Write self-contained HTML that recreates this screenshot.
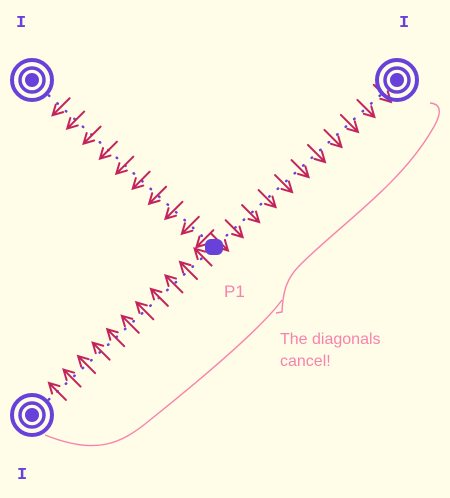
<!DOCTYPE html>
<html><head><meta charset="utf-8">
<style>
html,body{margin:0;padding:0;background:#fffce8;}
svg{display:block;}
.lbl{font-family:"Comic Sans MS","Liberation Sans",sans-serif;}
.ii{font-family:"Liberation Mono",monospace;font-weight:bold;}
</style></head>
<body>
<svg id="s" width="450" height="498" viewBox="0 0 450 498" xmlns="http://www.w3.org/2000/svg">
<rect width="450" height="498" fill="#fffce8"/>
<g id="lines"></g>
<g id="arrows"></g>
<g id="sources"></g>
<rect x="205" y="239" width="18" height="16" rx="6" fill="#6741d9"/>
<text x="224" y="297" class="lbl" font-size="17" fill="#f783ac">P1</text>
<path d="M430,103 C442,104 442,114 432,130 C400,185 340,225 300,265 C287,278 283,290 282,312 L276,313 M282,300 C260,330 200,380 150,420 C120,445 95,455 45,435" fill="none" stroke="#f783ac" stroke-width="1.4"/>
<text x="280" y="344" class="lbl" font-size="16" fill="#f783ac">The diagonals</text>
<text x="280" y="366" class="lbl" font-size="16" fill="#f783ac">cancel!</text>
<text x="16" y="27" class="ii" font-size="17" fill="#6741d9">I</text>
<text x="399" y="27" class="ii" font-size="17" fill="#6741d9">I</text>
<text x="17" y="479" class="ii" font-size="17" fill="#6741d9">I</text>
</svg>
<script>
// sources and target
const sourceNames = ['tl','tr','bl'];
const sourceX = [32, 397, 32];
const sourceY = [80, 80, 415];
const targetX = 214, targetY = 247;
// arrow positions along each line (fraction from source to target)
const tlT = [0.16,0.24,0.33,0.42,0.51,0.60,0.69,0.78,0.87,0.95];
const trT = [0.08,0.17,0.26,0.35,0.44,0.53,0.62,0.71,0.80,0.89,0.97];
const blT = [0.14,0.22,0.30,0.38,0.46,0.54,0.62,0.70,0.78,0.86,0.94];
const allT = [tlT, trT, blT];
// arrow direction per line
const dirX = [-1, 1, -1];
const dirY = [1, 1, -1];

const NS = 'http://www.w3.org/2000/svg';
const gL = document.getElementById('lines');
const gA = document.getElementById('arrows');
const gS = document.getElementById('sources');

sourceNames.forEach((n,i)=>{
  const ln = document.createElementNS(NS,'line');
  ln.setAttribute('x1',sourceX[i]); ln.setAttribute('y1',sourceY[i]);
  ln.setAttribute('x2',targetX); ln.setAttribute('y2',targetY);
  ln.setAttribute('stroke','#6741d9'); ln.setAttribute('stroke-width','2.5');
  ln.setAttribute('stroke-dasharray','0.5 11'); ln.setAttribute('stroke-linecap','round');
  
  
  gL.appendChild(ln);

  const dx = dirX[i]/Math.SQRT2, dy = dirY[i]/Math.SQRT2;
  allT[i].forEach((t,k)=>{
    const cx = sourceX[i] + (targetX-sourceX[i])*t;
    const cy = sourceY[i] + (targetY-sourceY[i])*t;
    const L = 12;
    const tx = cx+dx*L, ty = cy+dy*L, bx = cx-dx*L, by = cy-dy*L;
    const a = Math.atan2(dy,dx), h = 11, sp = 0.5;
    const w1x = tx - h*Math.cos(a-sp), w1y = ty - h*Math.sin(a-sp);
    const w2x = tx - h*Math.cos(a+sp), w2y = ty - h*Math.sin(a+sp);
    const p = document.createElementNS(NS,'path');
    p.setAttribute('d',`M${bx},${by} L${tx},${ty} M${w1x},${w1y} L${tx},${ty} L${w2x},${w2y}`);
    p.setAttribute('stroke','#c2255c'); p.setAttribute('stroke-width','2');
    p.setAttribute('fill','none'); p.setAttribute('stroke-linecap','round');
    
    
    gA.appendChild(p);
  });

  const g = document.createElementNS(NS,'g');
  
  
  const cx = sourceX[i], cy = sourceY[i];
  g.innerHTML = `<circle cx="${cx}" cy="${cy}" r="7" fill="#6741d9"/>
  <circle cx="${cx}" cy="${cy}" r="12" fill="none" stroke="#6741d9" stroke-width="3.5"/>
  <circle cx="${cx}" cy="${cy}" r="20" fill="none" stroke="#6741d9" stroke-width="4"/>`;
  gS.appendChild(g);
});
</script>
</body></html>
